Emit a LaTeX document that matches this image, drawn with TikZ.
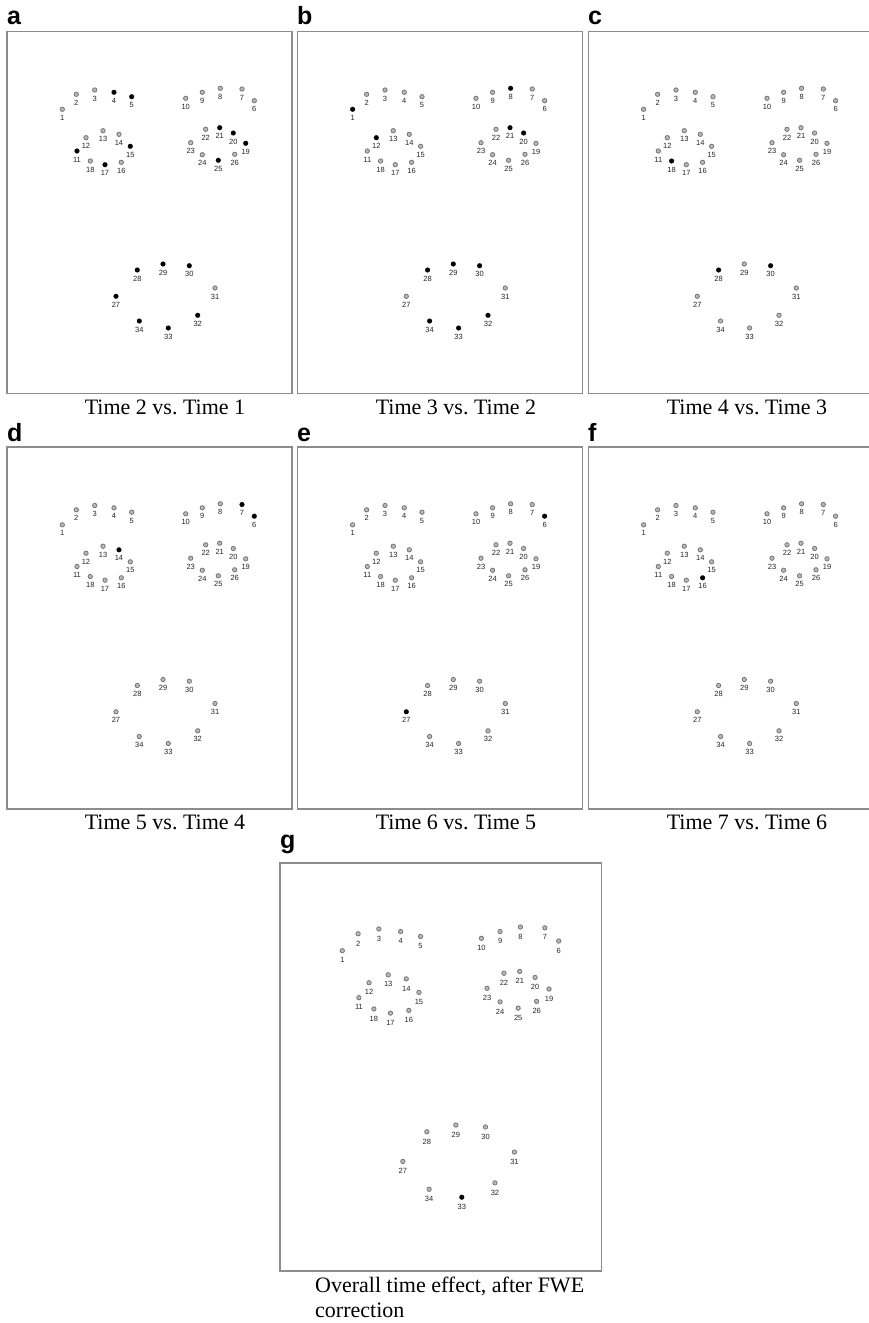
\documentclass[tikz,border=0pt]{standalone}
\usepackage{fontspec}
\setmainfont{Liberation Serif}
\newfontfamily\labfont{Liberation Sans}
\frenchspacing
\tikzset{
  frame/.style={draw=black!45, line width=1.3pt},
  gpt/.style={circle, minimum size=4.4pt, inner sep=0pt, fill=black!28, draw=black!55, line width=0.75pt},
  bpt/.style={circle, minimum size=4.8pt, inner sep=0pt, fill=black},
  lab/.style={inner sep=0pt, font=\labfont\fontsize{7.5}{8}\selectfont, text=black!85},
  letter/.style={anchor=base west, inner sep=0pt, font=\labfont\bfseries\fontsize{25}{28}\selectfont},
  caption/.style={anchor=base, inner sep=0pt, font=\fontsize{22}{24}\selectfont},
}
\newcommand\facepanel[5]{%
\begin{scope}[shift={(#2,#3)}, scale=#4]
\draw[frame] (0,0) rectangle (285,362);
\foreach \i/\xx/\yy in {1/55.3/77.8, 2/69.3/62.8, 3/87.7/58.5, 4/107/60.8, 5/124.7/65.2,
  6/247.3/69.2, 7/235/57.5, 8/213.3/56.8, 9/195.3/60.8, 10/178.7/66.8,
  11/70/119.5, 12/79/106.2, 13/96/99.2, 14/112/102.8, 15/123.3/114.8,
  16/114.3/130.8, 17/98/133.2, 18/83.3/129.5,
  19/238.7/111.8, 20/226.3/101.5, 21/212.7/96.2, 22/198.7/97.8, 23/183.7/111.2,
  24/195.3/123.2, 25/211.3/128.8, 26/227.7/122.8,
  27/109/264.8, 28/130.3/238.5, 29/156/232.5, 30/182.3/234.2, 31/208/256.5,
  32/190.7/283.8, 33/161.3/296.5, 34/132.3/289.5} {
  \node[gpt] (#1-\i) at (\xx,\yy) {};
  \node[lab] (#1-\i-l) at ([yshift=-8.5pt]#1-\i.center) {\i};
}
\foreach \i in {#5} {\node[bpt] (#1-\i-b) at (#1-\i.center) {};}
\end{scope}}
\begin{document}
\begin{tikzpicture}[x=1pt, y=-1pt]
\useasboundingbox (0,0) rectangle (869,1323);
\clip (0,0) rectangle (869,1323);
\fill[white] (0,0) rectangle (869,1323);
% row 1
\facepanel{a}{7}{31.5}{1}{4,5,11,15,17,19,20,21,25,27,28,29,30,32,33,34}
\facepanel{b}{297.3}{31.5}{1}{1,8,12,20,21,28,29,30,32,33,34}
\facepanel{c}{588.3}{31.5}{1}{18,28,30}
% row 2
\facepanel{d}{7}{447}{1}{6,7,14}
\facepanel{e}{297.3}{447}{1}{6,27}
\facepanel{f}{588.3}{447}{1}{16}
% row 3
\facepanel{g}{280}{863}{1.127}{33}
% letters
\node[letter] (la) at (7,24) {a};
\node[letter] (lb) at (297,24) {b};
\node[letter] (lc) at (588,24) {c};
\node[letter] (ld) at (7,441) {d};
\node[letter] (le) at (297,441) {e};
\node[letter] (lf) at (588,441) {f};
\node[letter] (lg) at (280,848) {g};
% captions
\node[caption] (ca) at (165,414) {Time 2 vs. Time 1};
\node[caption] (cb) at (456,414) {Time 3 vs. Time 2};
\node[caption] (cc) at (747,414) {Time 4 vs. Time 3};
\node[caption] (cd) at (165,829) {Time 5 vs. Time 4};
\node[caption] (ce) at (456,829) {Time 6 vs. Time 5};
\node[caption] (cf) at (747,829) {Time 7 vs. Time 6};
\node[caption, anchor=base west] (cg1) at (315,1292) {Overall time effect, after FWE};
\node[caption, anchor=base west] (cg2) at (315,1317) {correction};
\end{tikzpicture}
\end{document}
